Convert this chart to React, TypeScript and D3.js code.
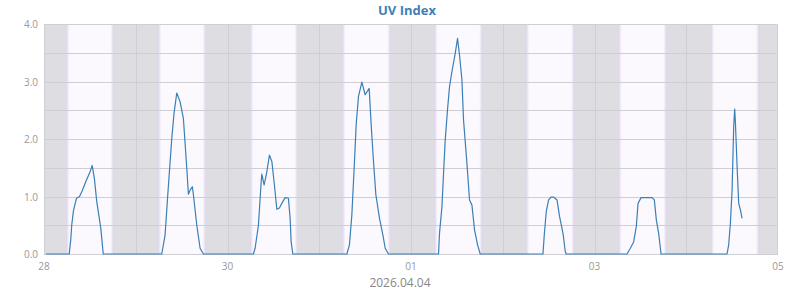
import React from "react";
import * as d3 from "d3";

// Hours since 2026-03-28 00:00 and UV index
const uvHours = [
  0.5, 6.6, 7.0, 7.25, 7.7, 8.5, 9.3, 10.0, 11.0, 12.0, 12.6, 13.0, 13.17, 13.8, 14.4, 14.85, 15.5,
  30.8, 31.67, 32.38, 33.42, 34.02, 34.73, 35.59, 36.46, 37.35, 37.77, 38.21, 38.81, 39.08, 39.97, 40.83, 41.69,
  54.78, 55.22, 56.09, 56.79, 56.98, 57.58, 58.29, 58.97, 59.6, 60.27, 60.9, 61.58, 62.21, 63.08, 63.94, 64.38, 64.65, 65.09,
  79.22, 79.9, 80.53, 81.13, 81.66, 82.26, 83.15, 84.01, 85.06, 85.58, 86.19, 86.81, 87.76, 88.65, 89.25, 90.11,
  103.2, 103.46, 104.09, 104.51, 104.95, 105.55, 106.08, 106.7, 107.57, 108.17, 108.69, 109.32, 109.74, 110.63, 111.31, 111.94, 112.62, 113.41, 114.11,
  130.52, 130.86, 131.39, 131.99, 132.62, 133.3, 134.19, 134.87, 135.76, 136.36, 136.62,
  152.51, 153.37, 154.24, 154.94, 155.39, 156.17, 157.74, 159.05, 159.65, 160.18, 160.78, 161.41,
  178.67, 179.1, 179.54, 179.99, 180.41, 180.67, 180.85, 181.3, 181.72, 182.16, 182.6,
];
const uvValues = [
  0, 0, 0.25, 0.5, 0.75, 0.97, 1.0, 1.1, 1.27, 1.42, 1.54, 1.38, 1.32, 0.91, 0.65, 0.45, 0,
  0, 0.33, 1.03, 2.01, 2.45, 2.8, 2.65, 2.36, 1.49, 1.04, 1.11, 1.17, 1.03, 0.5, 0.1, 0,
  0, 0.1, 0.5, 1.23, 1.39, 1.2, 1.43, 1.72, 1.61, 1.2, 0.78, 0.8, 0.88, 0.98, 0.97, 0.62, 0.21, 0,
  0, 0.16, 0.68, 1.49, 2.25, 2.74, 2.99, 2.77, 2.88, 2.25, 1.61, 1.03, 0.62, 0.33, 0.1, 0,
  0, 0.36, 0.82, 1.4, 1.98, 2.51, 2.91, 3.17, 3.49, 3.75, 3.46, 3.03, 2.33, 1.58, 0.94, 0.85, 0.42, 0.16, 0,
  0, 0.33, 0.74, 0.94, 0.99, 0.99, 0.94, 0.65, 0.36, 0.04, 0,
  0, 0.1, 0.21, 0.48, 0.88, 0.98, 0.98, 0.98, 0.94, 0.59, 0.36, 0,
  0, 0.16, 0.53, 1.11, 2.22, 2.52, 2.3, 1.52, 0.88, 0.77, 0.62,
];

// Daylight bands: sunrise / sunset hours of each day (local)
const sunriseHours = [5.76, 5.78, 5.86, 5.97, 6.07, 6.02, 6.23, 6.39];
const sunsetHours = [18.27, 18.4, 18.45, 18.71, 18.74, 18.79, 18.95, 19.13];

const tickDays = [28, 30, 32, 34, 36]; // days of March (32 = Apr 1 ...)
const yTicks = [0, 0.5, 1, 1.5, 2, 2.5, 3, 3.5, 4];
const yLabelTicks = [0, 1, 2, 3, 4];
const chartTitle = "UV Index";
const xTitle = "2026.04.04";

const W = 800;
const H = 290;
const M = { left: 44, right: 22, top: 24, bottom: 36 };

const base = Date.UTC(2026, 2, 28);
const HOUR = 3600e3;

export default function App() {
  const x = d3
    .scaleUtc()
    .domain([new Date(base), new Date(Date.UTC(2026, 2, 36))])
    .range([M.left, W - M.right]);
  const y = d3.scaleLinear().domain([0, 4]).range([H - M.bottom, M.top]);

  const pts: [Date, number][] = uvHours.map((h, i) => [new Date(base + h * HOUR), uvValues[i]]);
  const line = d3
    .line<[Date, number]>()
    .x((d) => x(d[0]))
    .y((d) => y(d[1]));

  const fmt = d3.utcFormat("%d");
  const x0 = M.left;
  const x1 = W - M.right;
  const y0 = y(0);
  const y1 = y(4);
  const midnights = d3.range(1, 8).map((k) => new Date(base + k * 24 * HOUR));

  return (
    <svg
      width={W}
      height={H}
      style={{ position: "absolute", left: 0, top: 0, fontFamily: "'Open Sans', sans-serif" }}
    >
      <defs>
        <linearGradient id="dayg" x1="0" x2="1" y1="0" y2="0">
          <stop offset="0" stopColor="#dcd3e8" />
          <stop offset="0.07" stopColor="#fbf9fe" />
          <stop offset="0.93" stopColor="#fbf9fe" />
          <stop offset="1" stopColor="#dcd3e8" />
        </linearGradient>
      </defs>
      <text x={407} y={15} textAnchor="middle" fontSize={13} fontWeight="bold" fill="#3d7fb6">
        {chartTitle}
      </text>
      <rect x={x0} y={y1} width={x1 - x0} height={y0 - y1} fill="#dedde1" />
      {sunriseHours.map((r, k) => {
        const a = x(new Date(base + (k * 24 + r) * HOUR));
        const b = x(new Date(base + (k * 24 + sunsetHours[k]) * HOUR));
        return <rect key={k} x={a} y={y1} width={b - a} height={y0 - y1} fill="url(#dayg)" />;
      })}
      {yTicks.map((t) => (
        <line key={t} x1={x0} x2={x1} y1={Math.round(y(t)) + 0.5} y2={Math.round(y(t)) + 0.5} stroke="#cfcfd3" strokeWidth={1} />
      ))}
      {midnights.map((d, i) => (
        <line key={i} x1={Math.round(x(d)) + 0.5} x2={Math.round(x(d)) + 0.5} y1={y1} y2={y0} stroke="#cfcfd3" strokeWidth={1} />
      ))}
      <rect x={x0 + 0.5} y={Math.round(y1) + 0.5} width={x1 - x0 - 1} height={Math.round(y0) - Math.round(y1)} fill="none" stroke="#cfcfd3" />
      <path d={line(pts) || ""} fill="none" stroke="#3a7fb7" strokeWidth={1.2} strokeLinejoin="round" />
      {yLabelTicks.map((t) => (
        <text key={t} x={38} y={y(t) + 4} textAnchor="end" fontSize={10} fill="#999">
          {d3.format(".1f")(t)}
        </text>
      ))}
      {tickDays.map((dd) => {
        const d = new Date(Date.UTC(2026, 2, dd));
        return (
          <text key={dd} x={x(d)} y={270} textAnchor="middle" fontSize={10} fill="#999">
            {fmt(d)}
          </text>
        );
      })}
      <text x={400} y={287} textAnchor="middle" fontSize={12} fill="#888">
        {xTitle}
      </text>
    </svg>
  );
}
